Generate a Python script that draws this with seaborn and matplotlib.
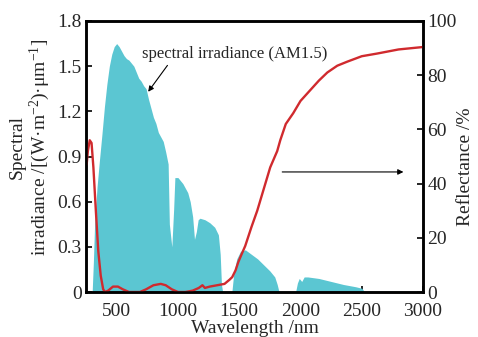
import numpy as np
import pandas as pd
import matplotlib
matplotlib.use('Agg')
import matplotlib.pyplot as plt
import seaborn as sns

# AM1.5 spectral irradiance
sun_nm = [280, 300, 310, 320, 340, 360, 380, 400, 420, 440, 460, 480, 500, 520, 540, 560,
          580, 600, 620, 640, 660, 680, 700, 720, 740, 760, 780, 800, 820, 840, 860, 880,
          900, 920, 930, 950, 965, 975, 1000, 1040, 1080, 1100, 1120, 1135, 1150, 1165, 1180,
          1220, 1260, 1300, 1330, 1345, 1355, 1365, 1440, 1455, 1480, 1510, 1550, 1600, 1650,
          1700, 1750, 1790, 1810, 1825, 1960, 1975, 1990, 2010, 2030, 2060, 2150, 2250, 2350,
          2450, 2500, 2520, 3000]
sun_irr = [0, 0, 0.2, 0.45, 0.7, 0.88, 1.05, 1.23, 1.38, 1.5, 1.58, 1.63, 1.65, 1.63, 1.6, 1.57,
           1.55, 1.54, 1.52, 1.5, 1.46, 1.42, 1.4, 1.37, 1.35, 1.28, 1.22, 1.16, 1.12, 1.06, 1.03, 1.0,
           0.93, 0.85, 0.45, 0.3, 0.55, 0.76, 0.76, 0.72, 0.66, 0.6, 0.5, 0.35, 0.4, 0.48, 0.49,
           0.48, 0.46, 0.43, 0.38, 0.25, 0.05, 0, 0, 0.12, 0.22, 0.27, 0.28, 0.25, 0.22,
           0.18, 0.14, 0.1, 0.05, 0, 0, 0.06, 0.09, 0.07, 0.1, 0.1, 0.09, 0.07, 0.05,
           0.035, 0.025, 0.005, 0.005]

# reflectance curve
ref_nm = [255, 265, 280, 295, 310, 330, 350, 370, 390, 405, 430, 470, 510, 550, 600, 650, 690,
          740, 800, 860, 900, 950, 1000, 1060, 1120, 1170, 1200, 1220, 1260, 1320, 1380, 1420,
          1443, 1470, 1492, 1520, 1549, 1600, 1647, 1700, 1753, 1810, 1835, 1880, 1941, 2000,
          2080, 2150, 2219, 2300, 2382, 2500, 2627, 2800, 3000]
ref_pct = [47, 52, 56, 55, 46, 30, 15, 6, 1, 0, 0.5, 2, 2, 1, 0, 0, 0,
           1, 2.5, 3, 2.5, 1, 0, 0, 0.5, 1.5, 2.5, 1.5, 2, 2.5, 3, 4.5,
           5.5, 8, 11, 14, 17, 24, 30, 38, 46, 52, 56, 62, 66, 70.5,
           74.5, 78, 81, 83.5, 85, 87, 88, 89.5, 90.4]

x_ticks = [500, 1000, 1500, 2000, 2500, 3000]
irr_ticks = [0, 0.3, 0.6, 0.9, 1.2, 1.5, 1.8]
irr_labels = ['0', '0.3', '0.6', '0.9', '1.2', '1.5', '1.8']
ref_ticks = [0, 20, 40, 60, 80, 100]

sns.set_style('ticks')
plt.rcParams['font.family'] = ['Liberation Serif', 'DejaVu Serif']
plt.rcParams['mathtext.fontset'] = 'custom'
plt.rcParams['mathtext.rm'] = 'Liberation Serif'
plt.rcParams['mathtext.it'] = 'Liberation Serif:italic'

teal = '#5BC6D2'
red = '#D02A2E'

fig = plt.figure(figsize=(4.78, 3.37), dpi=100)
ax = fig.add_axes([0.18, 0.1335, 0.705, 0.8042])
ax.fill_between(sun_nm, 0, sun_irr, color=teal, linewidth=0)
ax.set_xlim(250, 3000)
ax.set_ylim(0, 1.8)
ax.set_xticks(x_ticks)
ax.set_yticks(irr_ticks, irr_labels)

ax2 = ax.twinx()
df = pd.DataFrame({'nm': ref_nm, 'R': ref_pct})
sns.lineplot(data=df, x='nm', y='R', ax=ax2, color=red, linewidth=1.7)
ax2.set_ylim(0, 100)
ax2.set_yticks(ref_ticks)
ax2.set_xlabel('')
ax2.set_ylabel('')

for a in (ax, ax2):
    for s in a.spines.values():
        s.set_linewidth(1.8)
        s.set_color('black')
    a.tick_params(direction='in', length=4, width=1.4, labelsize=14, pad=3)
ax.tick_params(axis='x', pad=8)

ax.set_xlabel('Wavelength /nm', fontsize=14, labelpad=0)
fig.text(17 / 478, 1 - 147 / 337, 'Spectral', rotation=90, fontsize=14,
         ha='center', va='center')
fig.text(40 / 478, 1 - 147 / 337, r'irradiance /[(W·m$^{-2}$)·μm$^{-1}$]', rotation=90,
         fontsize=14, ha='center', va='center')
fig.text(465 / 478, 1 - 167 / 337, 'Reflectance /%', rotation=90, fontsize=14,
         ha='center', va='center')

ax.annotate('spectral irradiance (AM1.5)', xy=(757, 1.33), xytext=(707, 1.58),
            fontsize=12, ha='left', va='center',
            arrowprops=dict(arrowstyle='-|>', color='black', lw=0.8,
                            shrinkA=0, shrinkB=0, mutation_scale=8,
                            relpos=(0.15, 0)))
ax2.annotate('', xy=(2840, 44.3), xytext=(1851, 44.3),
             arrowprops=dict(arrowstyle='-|>', color='black', lw=0.8,
                             shrinkA=0, shrinkB=0, mutation_scale=8))

fig.savefig('out.png', dpi=100)
